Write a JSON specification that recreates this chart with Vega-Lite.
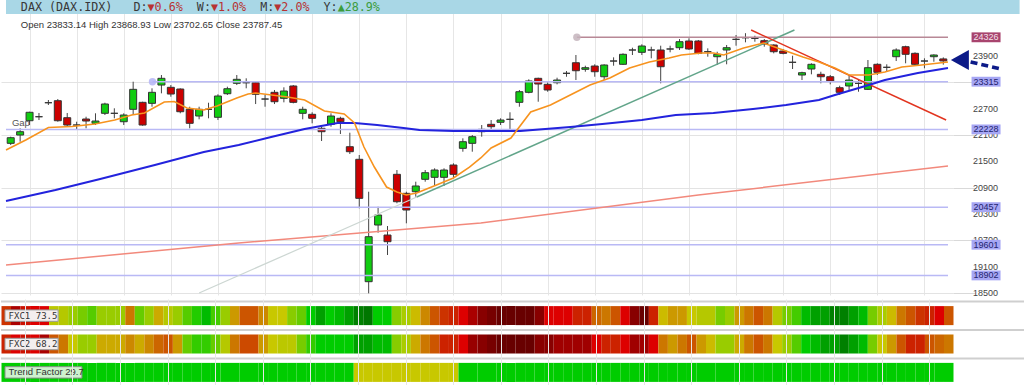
{
  "$schema": "https://vega.github.io/schema/vega-lite/v6.json",
  "padding": 0,
  "background": "#ffffff",
  "spacing": 0,
  "config": {"view": {"stroke": null}, "font": "Liberation Sans", "axis": {"domain": false}},
  "resolve": {"scale": {"x": "independent", "y": "independent", "color": "independent"}},
  "datasets": {
    "candles": [
      {"i":0,"o":21911,"h":22062,"l":21873,"c":22039,"f1":30,"f2":26,"tf":84},
      {"i":1,"o":22100,"h":22253,"l":21948,"c":22176,"f1":15,"f2":20,"tf":84},
      {"i":2,"o":22426,"h":22631,"l":22328,"c":22618,"f1":22,"f2":22,"tf":84},
      {"i":3,"o":22517,"h":22602,"l":22442,"c":22517,"f1":20,"f2":20,"tf":84},
      {"i":4,"o":22836,"h":22898,"l":22784,"c":22836,"f1":20,"f2":15,"tf":84},
      {"i":5,"o":22882,"h":22920,"l":22403,"c":22426,"f1":60,"f2":36,"tf":84},
      {"i":6,"o":22495,"h":22602,"l":22290,"c":22328,"f1":61,"f2":44,"tf":84},
      {"i":7,"o":22328,"h":22403,"l":22214,"c":22328,"f1":66,"f2":58,"tf":84},
      {"i":8,"o":22465,"h":22517,"l":22253,"c":22419,"f1":71,"f2":66,"tf":84},
      {"i":9,"o":22367,"h":22595,"l":22328,"c":22419,"f1":75,"f2":66,"tf":84},
      {"i":10,"o":22595,"h":22836,"l":22556,"c":22807,"f1":66,"f2":53,"tf":84},
      {"i":11,"o":22595,"h":22709,"l":22481,"c":22595,"f1":66,"f2":53,"tf":84},
      {"i":12,"o":22403,"h":22595,"l":22328,"c":22556,"f1":66,"f2":53,"tf":84},
      {"i":13,"o":22686,"h":23315,"l":22556,"c":23141,"f1":44,"f2":47,"tf":84},
      {"i":14,"o":22845,"h":22859,"l":22312,"c":22328,"f1":73,"f2":53,"tf":84},
      {"i":15,"o":22822,"h":23164,"l":22745,"c":23073,"f1":66,"f2":47,"tf":84},
      {"i":16,"o":23239,"h":23467,"l":23050,"c":23392,"f1":53,"f2":40,"tf":84},
      {"i":17,"o":23187,"h":23239,"l":22973,"c":23034,"f1":61,"f2":36,"tf":84},
      {"i":18,"o":23148,"h":23164,"l":22595,"c":22631,"f1":66,"f2":50,"tf":84},
      {"i":19,"o":22686,"h":22745,"l":22253,"c":22367,"f1":75,"f2":73,"tf":84},
      {"i":20,"o":22533,"h":22745,"l":22458,"c":22686,"f1":80,"f2":78,"tf":84},
      {"i":21,"o":22686,"h":22836,"l":22481,"c":22686,"f1":88,"f2":78,"tf":84},
      {"i":22,"o":22504,"h":23028,"l":22442,"c":22989,"f1":76,"f2":73,"tf":84},
      {"i":23,"o":23041,"h":23201,"l":23012,"c":23155,"f1":66,"f2":61,"tf":84},
      {"i":24,"o":23278,"h":23467,"l":23239,"c":23369,"f1":50,"f2":44,"tf":84},
      {"i":25,"o":23292,"h":23392,"l":23164,"c":23292,"f1":36,"f2":34,"tf":84},
      {"i":26,"o":23292,"h":23315,"l":22806,"c":23028,"f1":36,"f2":34,"tf":84},
      {"i":27,"o":22920,"h":23012,"l":22745,"c":22920,"f1":47,"f2":50,"tf":84},
      {"i":28,"o":23073,"h":23126,"l":22806,"c":22859,"f1":58,"f2":58,"tf":84},
      {"i":29,"o":22936,"h":23187,"l":22845,"c":23103,"f1":58,"f2":60,"tf":84},
      {"i":30,"o":23217,"h":23239,"l":22822,"c":22845,"f1":69,"f2":60,"tf":84},
      {"i":31,"o":22595,"h":22745,"l":22458,"c":22686,"f1":73,"f2":71,"tf":84},
      {"i":32,"o":22572,"h":22618,"l":22367,"c":22481,"f1":84,"f2":78,"tf":84},
      {"i":33,"o":22253,"h":22290,"l":21964,"c":22176,"f1":92,"f2":84,"tf":84},
      {"i":34,"o":22344,"h":22595,"l":22290,"c":22533,"f1":84,"f2":84,"tf":84},
      {"i":35,"o":22481,"h":22517,"l":22123,"c":22403,"f1":88,"f2":84,"tf":84},
      {"i":36,"o":21834,"h":22153,"l":21668,"c":21720,"f1":92,"f2":84,"tf":84},
      {"i":37,"o":21547,"h":21645,"l":20431,"c":20658,"f1":96,"f2":92,"tf":58},
      {"i":38,"o":18759,"h":20809,"l":18494,"c":19784,"f1":98,"f2":92,"tf":58},
      {"i":39,"o":20050,"h":20467,"l":19875,"c":20278,"f1":84,"f2":88,"tf":58},
      {"i":40,"o":19822,"h":20027,"l":19367,"c":19670,"f1":84,"f2":88,"tf":58},
      {"i":41,"o":21205,"h":21303,"l":20545,"c":20581,"f1":69,"f2":69,"tf":58},
      {"i":42,"o":20772,"h":20809,"l":20089,"c":20392,"f1":63,"f2":63,"tf":58},
      {"i":43,"o":20809,"h":21037,"l":20695,"c":20939,"f1":55,"f2":53,"tf":58},
      {"i":44,"o":21091,"h":21303,"l":21037,"c":21242,"f1":47,"f2":44,"tf":58},
      {"i":45,"o":21137,"h":21342,"l":20961,"c":21303,"f1":36,"f2":36,"tf":58},
      {"i":46,"o":21137,"h":21342,"l":20939,"c":21303,"f1":30,"f2":26,"tf":58},
      {"i":47,"o":21417,"h":21456,"l":21114,"c":21205,"f1":26,"f2":26,"tf":58},
      {"i":48,"o":21797,"h":22025,"l":21720,"c":21948,"f1":20,"f2":20,"tf":84},
      {"i":49,"o":21911,"h":22100,"l":21720,"c":22062,"f1":15,"f2":12,"tf":84},
      {"i":50,"o":22176,"h":22328,"l":22062,"c":22230,"f1":10,"f2":10,"tf":84},
      {"i":51,"o":22344,"h":22442,"l":22237,"c":22290,"f1":5,"f2":5,"tf":84},
      {"i":52,"o":22390,"h":22481,"l":22328,"c":22442,"f1":3,"f2":3,"tf":84},
      {"i":53,"o":22458,"h":22618,"l":22214,"c":22458,"f1":3,"f2":3,"tf":84},
      {"i":54,"o":22845,"h":23126,"l":22745,"c":23087,"f1":3,"f2":3,"tf":84},
      {"i":55,"o":23073,"h":23369,"l":23050,"c":23331,"f1":3,"f2":3,"tf":84},
      {"i":56,"o":23392,"h":23406,"l":22859,"c":23262,"f1":10,"f2":10,"tf":84},
      {"i":57,"o":23255,"h":23301,"l":23087,"c":23126,"f1":20,"f2":10,"tf":84},
      {"i":58,"o":23292,"h":23406,"l":23255,"c":23353,"f1":20,"f2":13,"tf":84},
      {"i":59,"o":23506,"h":23558,"l":23428,"c":23506,"f1":20,"f2":13,"tf":84},
      {"i":60,"o":23747,"h":23923,"l":23353,"c":23565,"f1":26,"f2":13,"tf":84},
      {"i":61,"o":23597,"h":23679,"l":23542,"c":23634,"f1":26,"f2":13,"tf":84},
      {"i":62,"o":23672,"h":23711,"l":23428,"c":23542,"f1":40,"f2":20,"tf":84},
      {"i":63,"o":23428,"h":23711,"l":23353,"c":23695,"f1":44,"f2":26,"tf":84},
      {"i":64,"o":23786,"h":23870,"l":23679,"c":23786,"f1":36,"f2":26,"tf":84},
      {"i":65,"o":23711,"h":23961,"l":23695,"c":23939,"f1":20,"f2":20,"tf":84},
      {"i":66,"o":24037,"h":24089,"l":23923,"c":24037,"f1":10,"f2":13,"tf":84},
      {"i":67,"o":23984,"h":24167,"l":23923,"c":24128,"f1":3,"f2":13,"tf":84},
      {"i":68,"o":24037,"h":24112,"l":23848,"c":24037,"f1":26,"f2":20,"tf":84},
      {"i":69,"o":24037,"h":24135,"l":23278,"c":23656,"f1":55,"f2":44,"tf":84},
      {"i":70,"o":24060,"h":24135,"l":23984,"c":24060,"f1":50,"f2":50,"tf":84},
      {"i":71,"o":24089,"h":24287,"l":24037,"c":24226,"f1":50,"f2":44,"tf":84},
      {"i":72,"o":24242,"h":24303,"l":24037,"c":24060,"f1":58,"f2":36,"tf":84},
      {"i":73,"o":24242,"h":24265,"l":23939,"c":23961,"f1":61,"f2":50,"tf":84},
      {"i":74,"o":23998,"h":24075,"l":23884,"c":23998,"f1":61,"f2":55,"tf":84},
      {"i":75,"o":23884,"h":23998,"l":23695,"c":23939,"f1":71,"f2":66,"tf":84},
      {"i":76,"o":24037,"h":24151,"l":23711,"c":24089,"f1":66,"f2":66,"tf":84},
      {"i":77,"o":24280,"h":24378,"l":24135,"c":24280,"f1":50,"f2":53,"tf":84},
      {"i":78,"o":24317,"h":24420,"l":24212,"c":24317,"f1":44,"f2":44,"tf":84},
      {"i":79,"o":24303,"h":24362,"l":24226,"c":24303,"f1":36,"f2":36,"tf":84},
      {"i":80,"o":24249,"h":24287,"l":24112,"c":24173,"f1":44,"f2":44,"tf":84},
      {"i":81,"o":24151,"h":24167,"l":23961,"c":23998,"f1":61,"f2":58,"tf":84},
      {"i":82,"o":24014,"h":24060,"l":23939,"c":23961,"f1":71,"f2":66,"tf":84},
      {"i":83,"o":23757,"h":23907,"l":23604,"c":23757,"f1":76,"f2":75,"tf":84},
      {"i":84,"o":23467,"h":23542,"l":23353,"c":23520,"f1":88,"f2":84,"tf":84},
      {"i":85,"o":23604,"h":23734,"l":23483,"c":23711,"f1":92,"f2":88,"tf":84},
      {"i":86,"o":23483,"h":23542,"l":23278,"c":23428,"f1":92,"f2":92,"tf":84},
      {"i":87,"o":23428,"h":23467,"l":23255,"c":23331,"f1":96,"f2":92,"tf":84},
      {"i":88,"o":23178,"h":23223,"l":23012,"c":23073,"f1":96,"f2":96,"tf":84},
      {"i":89,"o":23217,"h":23467,"l":23126,"c":23353,"f1":92,"f2":92,"tf":84},
      {"i":90,"o":23278,"h":23353,"l":23087,"c":23278,"f1":88,"f2":88,"tf":84},
      {"i":91,"o":23141,"h":23809,"l":23126,"c":23634,"f1":71,"f2":71,"tf":84},
      {"i":92,"o":23711,"h":23734,"l":23467,"c":23529,"f1":63,"f2":58,"tf":84},
      {"i":93,"o":23643,"h":23711,"l":23542,"c":23643,"f1":55,"f2":50,"tf":84},
      {"i":94,"o":23884,"h":24075,"l":23786,"c":24037,"f1":44,"f2":36,"tf":84},
      {"i":95,"o":24112,"h":24135,"l":23734,"c":23939,"f1":36,"f2":26,"tf":84},
      {"i":96,"o":23961,"h":23984,"l":23695,"c":23711,"f1":30,"f2":26,"tf":84},
      {"i":97,"o":23786,"h":23848,"l":23620,"c":23786,"f1":26,"f2":36,"tf":84},
      {"i":98,"o":23884,"h":23939,"l":23770,"c":23923,"f1":20,"f2":40,"tf":84},
      {"i":99,"o":23833.14,"h":23868.93,"l":23702.65,"c":23787.45,"f1":36,"f2":44,"tf":84}
    ],
    "lines": [
      {"s":"ema","i":-0.5,"v":21759},{"s":"ema","i":1.6,"v":21986},{"s":"ema","i":4.0,"v":22271},{"s":"ema","i":6.5,"v":22294},
      {"s":"ema","i":8.95,"v":22351},{"s":"ema","i":11.05,"v":22442},{"s":"ema","i":12.84,"v":22556},{"s":"ema","i":14.2,"v":22601},
      {"s":"ema","i":16.3,"v":22852},{"s":"ema","i":17.36,"v":22863},{"s":"ema","i":18.7,"v":22715},{"s":"ema","i":20.5,"v":22670},
      {"s":"ema","i":21.9,"v":22761},{"s":"ema","i":24,"v":22943},{"s":"ema","i":25.2,"v":23035},{"s":"ema","i":26,"v":23057},
      {"s":"ema","i":29.4,"v":22966},{"s":"ema","i":31.2,"v":22898},{"s":"ema","i":33.3,"v":22647},{"s":"ema","i":35.4,"v":22579},
      {"s":"ema","i":36.5,"v":22374},{"s":"ema","i":37.5,"v":21827},{"s":"ema","i":38.6,"v":21371},{"s":"ema","i":39.9,"v":20916},
      {"s":"ema","i":41,"v":20802},{"s":"ema","i":42,"v":20734},{"s":"ema","i":43.1,"v":20779},{"s":"ema","i":45.2,"v":20961},
      {"s":"ema","i":47,"v":21121},{"s":"ema","i":48.7,"v":21371},{"s":"ema","i":49.9,"v":21577},{"s":"ema","i":51,"v":21804},
      {"s":"ema","i":53.1,"v":22032},{"s":"ema","i":55.2,"v":22624},{"s":"ema","i":57.3,"v":22784},{"s":"ema","i":59.4,"v":23012},
      {"s":"ema","i":61.5,"v":23239},{"s":"ema","i":63.6,"v":23399},{"s":"ema","i":65.7,"v":23627},{"s":"ema","i":67.8,"v":23763},
      {"s":"ema","i":69.9,"v":23854},{"s":"ema","i":71.2,"v":23923},{"s":"ema","i":73.3,"v":23968},{"s":"ema","i":74.6,"v":23968},
      {"s":"ema","i":75.7,"v":23923},{"s":"ema","i":77.8,"v":24082},{"s":"ema","i":79.9,"v":24196},{"s":"ema","i":82,"v":24036},
      {"s":"ema","i":84.1,"v":23877},{"s":"ema","i":85.8,"v":23763},{"s":"ema","i":87.5,"v":23627},{"s":"ema","i":89,"v":23467},
      {"s":"ema","i":91.1,"v":23467},{"s":"ema","i":92.8,"v":23536},{"s":"ema","i":94.6,"v":23649},{"s":"ema","i":96.7,"v":23695},
      {"s":"ema","i":99.5,"v":23763},
      {"s":"sma50","i":-0.5,"v":20597},{"s":"sma50","i":4.75,"v":20847},{"s":"sma50","i":9.5,"v":21098},{"s":"sma50","i":15.3,"v":21417},
      {"s":"sma50","i":20.5,"v":21713},{"s":"sma50","i":24.2,"v":21873},{"s":"sma50","i":27.65,"v":22055},{"s":"sma50","i":31.2,"v":22237},
      {"s":"sma50","i":34.7,"v":22374},{"s":"sma50","i":36.5,"v":22374},{"s":"sma50","i":38.9,"v":22328},{"s":"sma50","i":41.7,"v":22260},
      {"s":"sma50","i":43.4,"v":22214},{"s":"sma50","i":47,"v":22191},{"s":"sma50","i":49.9,"v":22191},{"s":"sma50","i":54.1,"v":22191},
      {"s":"sma50","i":59.4,"v":22283},{"s":"sma50","i":62.8,"v":22351},{"s":"sma50","i":67,"v":22442},{"s":"sma50","i":70.6,"v":22556},
      {"s":"sma50","i":74.6,"v":22602},{"s":"sma50","i":78.8,"v":22693},{"s":"sma50","i":82.3,"v":22784},{"s":"sma50","i":85.8,"v":22898},
      {"s":"sma50","i":87.5,"v":23012},{"s":"sma50","i":89.3,"v":23126},{"s":"sma50","i":91.1,"v":23239},{"s":"sma50","i":92.8,"v":23353},
      {"s":"sma50","i":96.3,"v":23513},{"s":"sma50","i":99.5,"v":23627},
      {"s":"sma200","i":-0.5,"v":19139},{"s":"sma200","i":24.2,"v":19640},{"s":"sma200","i":49.9,"v":20096},{"s":"sma200","i":73,"v":20734},{"s":"sma200","i":99.5,"v":21394},
      {"s":"tgrey","i":20,"v":18502},{"s":"tgrey","i":43.1,"v":20688},
      {"s":"tteal","i":43.1,"v":20688},{"s":"tteal","i":83.2,"v":24492},
      {"s":"tred","i":78.6,"v":24492},{"s":"tred","i":99.3,"v":22442}
    ],
    "levels": [
      {"lv":24326,"start":60.1,"kind":"high"},
      {"lv":23315,"start":15.05,"kind":"level"},
      {"lv":22228,"start":-0.5,"kind":"level"},
      {"lv":20457,"start":-0.5,"kind":"level"},
      {"lv":19601,"start":-0.5,"kind":"level"},
      {"lv":18902,"start":-0.5,"kind":"level"}
    ],
    "yticks": [
      {"v":18500},{"v":19100},{"v":19700},{"v":20300},{"v":20900},
      {"v":21500},{"v":22100},{"v":22700},{"v":23300},{"v":23900}
    ],
    "header": [
      {"tone":"dark","col":0,"t":"DAX (DAX.IDX)"},
      {"tone":"dark","col":16,"t":"D:"},
      {"tone":"red","col":18,"t":"\u25bc0.6%"},
      {"tone":"dark","col":25,"t":"W:"},
      {"tone":"red","col":27,"t":"\u25bc1.0%"},
      {"tone":"dark","col":34,"t":"M:"},
      {"tone":"red","col":36,"t":"\u25bc2.0%"},
      {"tone":"dark","col":43,"t":"Y:"},
      {"tone":"green","col":45,"t":"\u25b228.9%"}
    ],
    "labels": [
      {"key":"f1","label":"FXC1 73.5"},
      {"key":"f2","label":"FXC2 68.2"},
      {"key":"tf","label":"Trend Factor 29.7"}
    ]
  },
  "vconcat": [
    {
      "width": 952,
      "height": 295,
      "layer": [
        {
          "data": {"values": [{"a": 1}]},
          "mark": {"type": "rect", "color": "#a9d7e6"},
          "encoding": {
            "x": {"datum": -0.5, "type": "quantitative"},
            "x2": {"datum": 107.1},
            "y": {"datum": 25176, "type": "quantitative"},
            "y2": {"datum": 24857}
          }
        },
        {
          "data": {"name": "candles"},
          "mark": {"type": "rule", "color": "#444444", "strokeWidth": 1},
          "encoding": {
            "x": {"field": "i", "type": "quantitative", "title": null,
              "scale": {"domain": [-0.5, 99.5], "nice": false, "zero": false},
              "axis": {"values": [2,7,12,17,22,27,32,37,42,47,52,57,62,67,72,77,82,87,92,97], "grid": true, "gridColor": "#e6e6e6", "labels": false, "ticks": false, "domain": false}},
            "y": {"field": "l", "type": "quantitative", "title": null,
              "scale": {"domain": [18456, 25176], "nice": false, "zero": false},
              "axis": {"orient": "right", "values": [18500,19100,19700,20300,20900,21500,22100,22700,23300,23900], "labels": false, "grid": true, "gridColor": "#e3e3e3", "tickSize": 22, "tickColor": "#d9d9d9", "domain": false}},
            "y2": {"field": "h"}
          }
        },
        {
          "data": {"name": "candles"},
          "mark": {"type": "bar", "width": 7, "stroke": "#333333", "strokeWidth": 1},
          "encoding": {
            "x": {"field": "i", "type": "quantitative", "title": null},
            "y": {"field": "o", "type": "quantitative", "title": null},
            "y2": {"field": "c"},
            "color": {"condition": [{"test": "datum.c > datum.o", "value": "#11cc11"}, {"test": "datum.c < datum.o", "value": "#cc0000"}], "value": "#222222"}
          }
        },
        {
          "data": {"name": "levels"},
          "mark": {"type": "rule", "strokeWidth": 1.5},
          "encoding": {
            "x": {"field": "start", "type": "quantitative", "title": null},
            "x2": {"datum": 99.5},
            "y": {"field": "lv", "type": "quantitative", "title": null},
            "color": {"condition": {"test": "datum.kind === 'high'", "value": "#b88896"}, "value": "#b9b9f5"}
          }
        },
        {
          "data": {"name": "levels"},
          "transform": [{"filter": "datum.start > 0"}],
          "mark": {"type": "circle", "size": 55, "opacity": 0.85},
          "encoding": {
            "x": {"field": "start", "type": "quantitative", "title": null},
            "y": {"field": "lv", "type": "quantitative", "title": null},
            "color": {"condition": {"test": "datum.kind === 'high'", "value": "#c4b4bc"}, "value": "#b4b4f6"}
          }
        },
        {
          "data": {"name": "lines"},
          "transform": [{"filter": "datum.s === 'sma200'"}],
          "mark": {"type": "line", "color": "#f2897c", "strokeWidth": 1.5},
          "encoding": {"x": {"field": "i", "type": "quantitative", "title": null}, "y": {"field": "v", "type": "quantitative", "title": null}}
        },
        {
          "data": {"name": "lines"},
          "transform": [{"filter": "datum.s === 'tgrey'"}],
          "mark": {"type": "line", "color": "#ccd6d2", "strokeWidth": 1.2},
          "encoding": {"x": {"field": "i", "type": "quantitative", "title": null}, "y": {"field": "v", "type": "quantitative", "title": null}}
        },
        {
          "data": {"name": "lines"},
          "transform": [{"filter": "datum.s === 'tteal'"}],
          "mark": {"type": "line", "color": "#62a58a", "strokeWidth": 1.5},
          "encoding": {"x": {"field": "i", "type": "quantitative", "title": null}, "y": {"field": "v", "type": "quantitative", "title": null}}
        },
        {
          "data": {"name": "lines"},
          "transform": [{"filter": "datum.s === 'tred'"}],
          "mark": {"type": "line", "color": "#e2341f", "strokeWidth": 1.5},
          "encoding": {"x": {"field": "i", "type": "quantitative", "title": null}, "y": {"field": "v", "type": "quantitative", "title": null}}
        },
        {
          "data": {"name": "lines"},
          "transform": [{"filter": "datum.s === 'sma50'"}],
          "mark": {"type": "line", "color": "#2323dd", "strokeWidth": 2},
          "encoding": {"x": {"field": "i", "type": "quantitative", "title": null}, "y": {"field": "v", "type": "quantitative", "title": null}}
        },
        {
          "data": {"name": "lines"},
          "transform": [{"filter": "datum.s === 'ema'"}],
          "mark": {"type": "line", "color": "#f7931e", "strokeWidth": 1.6},
          "encoding": {"x": {"field": "i", "type": "quantitative", "title": null}, "y": {"field": "v", "type": "quantitative", "title": null}}
        },
        {
          "data": {"name": "yticks"},
          "mark": {"type": "text", "fontSize": 9, "font": "Liberation Sans", "align": "left", "baseline": "middle", "color": "#444444"},
          "encoding": {
            "x": {"datum": 102.15, "type": "quantitative"},
            "y": {"field": "v", "type": "quantitative", "title": null},
            "text": {"field": "v", "type": "quantitative", "format": "d"}
          }
        },
        {
          "data": {"name": "levels"},
          "mark": {"type": "point", "shape": "M-1,-0.34L1,-0.34L1,0.34L-1,0.34Z", "size": 841, "filled": true, "opacity": 1},
          "encoding": {
            "x": {"datum": 103.54, "type": "quantitative"},
            "y": {"field": "lv", "type": "quantitative", "title": null},
            "color": {"condition": {"test": "datum.kind === 'high'", "value": "#a8446e"}, "value": "#a6a6f4"}
          }
        },
        {
          "data": {"name": "levels"},
          "mark": {"type": "text", "fontSize": 9, "font": "Liberation Sans", "align": "center", "baseline": "middle"},
          "encoding": {
            "x": {"datum": 103.54, "type": "quantitative"},
            "y": {"field": "lv", "type": "quantitative", "title": null},
            "text": {"field": "lv", "type": "quantitative", "format": "d"},
            "color": {"condition": {"test": "datum.kind === 'high'", "value": "#f4e0ea"}, "value": "#24246e"}
          }
        },
        {
          "data": {"values": [{"a": 1}]},
          "mark": {"type": "point", "shape": "M-1,0L1,-1.1L1,1.1Z", "size": 324, "filled": true, "opacity": 1, "color": "#0c1a88"},
          "encoding": {
            "x": {"datum": 100.76, "type": "quantitative"},
            "y": {"datum": 23809, "type": "quantitative"}
          }
        },
        {
          "data": {"values": [{"a": 1}]},
          "mark": {"type": "rule", "color": "#0c1a88", "strokeWidth": 3.5, "strokeDash": [7, 4]},
          "encoding": {
            "x": {"datum": 101.9, "type": "quantitative"},
            "x2": {"datum": 105.1},
            "y": {"datum": 23764, "type": "quantitative"},
            "y2": {"datum": 23604}
          }
        },
        {
          "data": {"name": "header"},
          "mark": {"type": "text", "font": "DejaVu Sans Mono", "fontSize": 11.7, "align": "left", "baseline": "middle"},
          "encoding": {
            "x": {"datum": 1.076, "type": "quantitative"},
            "xOffset": {"field": "col", "type": "quantitative", "scale": {"domain": [0, 100], "range": [0, 704]}},
            "y": {"datum": 25010, "type": "quantitative"},
            "text": {"field": "t", "type": "nominal"},
            "color": {"condition": [{"test": "datum.tone === 'red'", "value": "#b83232"}, {"test": "datum.tone === 'green'", "value": "#3c9c3c"}], "value": "#383838"}
          }
        },
        {
          "data": {"values": [{"t": "Open 23833.14  High 23868.93  Low 23702.65  Close 23787.45"}]},
          "mark": {"type": "text", "font": "Liberation Sans", "fontSize": 9.5, "align": "left", "baseline": "middle", "color": "#333333"},
          "encoding": {
            "x": {"datum": 1.076, "type": "quantitative"},
            "y": {"datum": 24606, "type": "quantitative"},
            "text": {"field": "t", "type": "nominal"}
          }
        },
        {
          "data": {"values": [{"t": "Gap"}]},
          "mark": {"type": "text", "font": "Liberation Sans", "fontSize": 9.5, "align": "left", "baseline": "middle", "color": "#555555"},
          "encoding": {
            "x": {"datum": 0.13, "type": "quantitative"},
            "y": {"datum": 22370, "type": "quantitative"},
            "text": {"field": "t", "type": "nominal"}
          }
        }
      ]
    },
    {
      "width": 952,
      "height": 90,
      "layer": [
        {
          "data": {"name": "candles"},
          "transform": [{"fold": ["f1", "f2", "tf"], "as": ["key", "score"]}],
          "mark": {"type": "rect"},
          "encoding": {
            "x": {"field": "i", "type": "quantitative", "bin": {"extent": [0, 100], "step": 1}, "title": null,
              "scale": {"domain": [0, 100], "nice": false, "zero": false},
              "axis": {"values": [2.5,7.5,12.5,17.5,22.5,27.5,32.5,37.5,42.5,47.5,52.5,57.5,62.5,67.5,72.5,77.5,82.5,87.5,92.5,97.5], "grid": true, "gridColor": "#e6e6e6", "labels": false, "ticks": false, "domain": false}},
            "y": {"field": "key", "type": "nominal", "sort": ["f1", "f2", "tf"], "title": null,
              "scale": {"paddingInner": 0.33, "paddingOuter": 0.25}, "axis": null},
            "color": {"field": "score", "type": "quantitative", "legend": null,
              "scale": {"interpolate": "rgb",
                "domain": [0,3,5,10,13,15,20,22,26,30,36,40,44,47,50,53,55,58,61,63,66,69,71,73,75,76,78,80,84,88,92,96,98,100],
                "range": ["#5a0000","#680000","#770000","#880000","#a00000","#aa0000","#dd0000","#cc1100","#cc2200","#cc3300","#cc5500","#cc6600","#cc7700","#cc8800","#cc9900","#ccaa00","#ccbb00","#c8c800","#b5c800","#aacc00","#99cc00","#88cc00","#77cc00","#66cc00","#55cc00","#44cc00","#33cc00","#22cc00","#00cc00","#00bb00","#00a000","#008000","#007700","#006600"]}}
          }
        },
        {
          "data": {"name": "labels"},
          "mark": {"type": "rule", "color": "#cfcfcf", "strokeWidth": 2, "yOffset": -4.5},
          "encoding": {
            "x": {"datum": 0, "type": "quantitative"},
            "x2": {"datum": 107.56},
            "y": {"field": "key", "type": "nominal", "bandPosition": 0, "title": null}
          }
        },
        {
          "data": {"name": "labels"},
          "transform": [{"filter": "datum.key !== 'tf'"}],
          "mark": {"type": "rect", "fill": "#f4eeee", "stroke": "#9a9a9a", "strokeWidth": 1, "height": {"band": 0.6}},
          "encoding": {
            "x": {"datum": 0.42, "type": "quantitative"},
            "x2": {"datum": 6.0},
            "y": {"field": "key", "type": "nominal", "title": null}
          }
        },
        {
          "data": {"name": "labels"},
          "transform": [{"filter": "datum.key === 'tf'"}],
          "mark": {"type": "rect", "fill": "#cdf2cd", "stroke": "#8a8a8a", "strokeWidth": 1, "height": {"band": 0.6}},
          "encoding": {
            "x": {"datum": 0.42, "type": "quantitative"},
            "x2": {"datum": 8.5},
            "y": {"field": "key", "type": "nominal", "title": null}
          }
        },
        {
          "data": {"name": "labels"},
          "transform": [{"filter": "datum.key !== 'tf'"}],
          "mark": {"type": "text", "font": "DejaVu Sans Mono", "fontSize": 9, "align": "left", "baseline": "middle", "color": "#333333"},
          "encoding": {
            "x": {"datum": 0.8, "type": "quantitative"},
            "y": {"field": "key", "type": "nominal", "title": null},
            "text": {"field": "label", "type": "nominal"}
          }
        },
        {
          "data": {"name": "labels"},
          "transform": [{"filter": "datum.key === 'tf'"}],
          "mark": {"type": "text", "font": "Liberation Sans", "fontSize": 9.5, "align": "left", "baseline": "middle", "color": "#333333"},
          "encoding": {
            "x": {"datum": 0.8, "type": "quantitative"},
            "y": {"field": "key", "type": "nominal", "title": null},
            "text": {"field": "label", "type": "nominal"}
          }
        }
      ]
    }
  ]
}
